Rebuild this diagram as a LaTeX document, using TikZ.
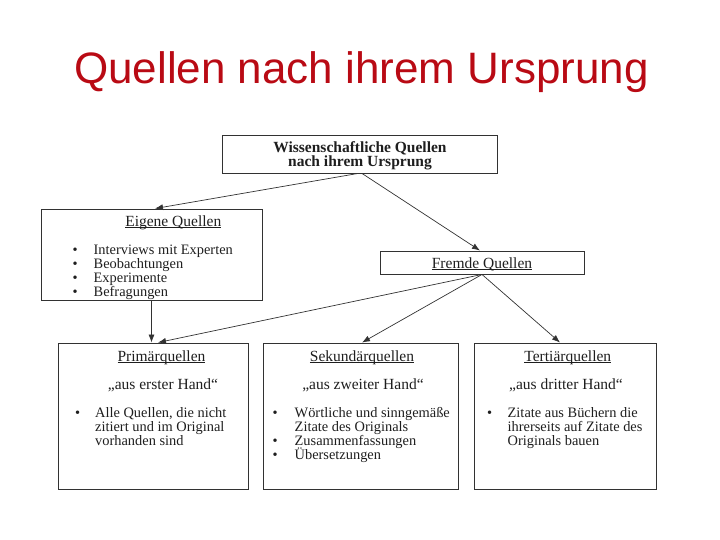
\documentclass[tikz,border=0pt]{standalone}
\usepackage{fontspec}
\setmainfont{Liberation Serif}
\newfontfamily\titlefont{Liberation Sans}
\usetikzlibrary{arrows.meta}
\definecolor{titlered}{RGB}{185,10,20}
\definecolor{ink}{RGB}{30,30,30}
\definecolor{frame}{RGB}{50,50,50}
\newcommand\ulin[1]{\setbox0\hbox{#1}\rlap{\rule[-1.8pt]{\wd0}{0.7pt}}\box0}
\newcommand\headfont{\fontsize{15.5}{14}\selectfont}
\newcommand\bodyfont{\fontsize{14.4}{13.8}\selectfont}
\tikzset{
  box/.style={draw=frame, line width=0.9pt, inner sep=0pt},
  txt/.style={inner sep=0pt, text=ink, font=\headfont},
  lst/.style={inner sep=0pt, text=ink, font=\bodyfont, anchor=base west, align=left},
  conn/.style={draw=frame, line width=0.7pt, -{Latex[length=8pt,width=6pt]}},
}
\begin{document}
\begin{tikzpicture}[x=1pt,y=-1pt]
\useasboundingbox (0,0) rectangle (720,540);
\node[inner sep=0pt, anchor=base, text=titlered, font=\titlefont\fontsize{44}{44}\selectfont] (title) at (361.5,84) {Quellen nach ihrem Ursprung};

% boxes
\node[box, minimum width=275pt, minimum height=38pt] (top) at (359.5,154) {};
\node[box, minimum width=221pt, minimum height=91pt] (eig) at (151.5,254.5) {};
\node[box, minimum width=204pt, minimum height=23pt] (frm) at (482,262.5) {};
\node[box, minimum width=190pt, minimum height=146pt] (pri) at (153,416) {};
\node[box, minimum width=195pt, minimum height=146pt] (sek) at (360.5,416) {};
\node[box, minimum width=182pt, minimum height=146pt] (ter) at (565,416) {};

% texts
\node[txt, anchor=base, font=\headfont\bfseries] (topa) at (360,152.5) {Wissenschaftliche Quellen};
\node[txt, anchor=base, font=\headfont\bfseries] (topb) at (360,166.5) {nach ihrem Ursprung};

\node[txt, anchor=base] (eigh) at (173.3,226) {\ulin{Eigene Quellen}};
\node[lst] (eigl) at (72.5,254.5) {\begin{tabular}[t]{@{}p{21pt}@{}l@{}}
•& Interviews mit Experten\\
•& Beobachtungen\\
•& Experimente\\
•& Befragungen
\end{tabular}};

\node[txt, anchor=base] (frmh) at (482,268) {\ulin{Fremde Quellen}};

\node[txt, anchor=base] (prih) at (161.5,361) {\ulin{Primärquellen}};
\node[txt, anchor=base] (priq) at (163,389) {„aus erster Hand“};
\node[lst] (pril) at (75,417) {\begin{tabular}[t]{@{}p{20pt}@{}l@{}}
•& Alle Quellen, die nicht\\
 & zitiert und im Original\\
 & vorhanden sind
\end{tabular}};

\node[txt, anchor=base] (sekh) at (362,361) {\ulin{Sekundärquellen}};
\node[txt, anchor=base] (sekq) at (363,389) {„aus zweiter Hand“};
\node[lst] (sekl) at (272.5,417) {\begin{tabular}[t]{@{}p{22pt}@{}l@{}}
•& \smash{Wörtliche und sinngemäße}\\
 & Zitate des Originals\\
•& Zusammenfassungen\\
•& \smash{Übersetzungen}
\end{tabular}};

\node[txt, anchor=base] (terh) at (567.8,361) {\ulin{Tertiärquellen}};
\node[txt, anchor=base] (terq) at (566,389) {„aus dritter Hand“};
\node[lst] (terl) at (487,417) {\begin{tabular}[t]{@{}p{20.5pt}@{}l@{}}
•& \smash{Zitate aus Büchern die}\\
 & ihrerseits auf Zitate des\\
 & Originals bauen
\end{tabular}};

% connectors
\draw[conn] ([xshift=-1.5pt]top.south) -- ([xshift=3.5pt]eig.north);
\draw[conn] ([xshift=2.5pt]top.south) -- ([xshift=-2pt]frm.north);
\draw[conn] (eig.south) -- (eig.south |- pri.north);
\draw[conn] (frm.south) -- ([xshift=5pt]pri.north);
\draw[conn] (frm.south) -- ([xshift=1.5pt]sek.north);
\draw[conn] (frm.south) -- ([xshift=-5pt]ter.north);
\end{tikzpicture}
\end{document}
